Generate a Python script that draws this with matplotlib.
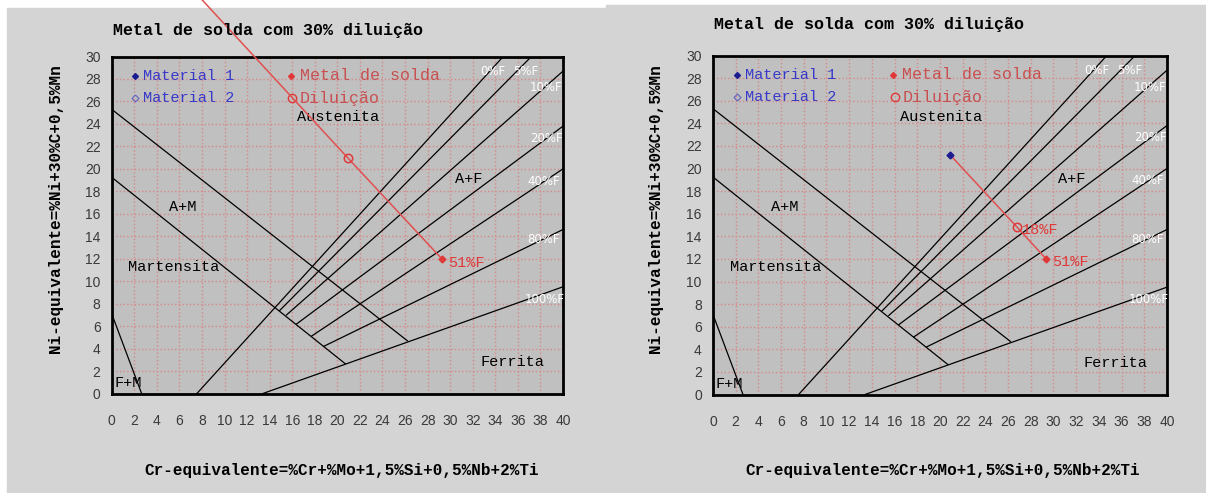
import matplotlib
matplotlib.use('Agg')
import matplotlib.pyplot as plt
from matplotlib.patches import Rectangle

W, H = 1206, 493

# Schaeffler diagram boundaries (Cr-eq, Ni-eq)
am_upper_x, am_upper_y = [0, 26.2], [25.3, 4.7]
am_lower_x, am_lower_y = [0, 20.7], [19.25, 2.65]
fm_x, fm_y = [0, 2.65], [7.1, 0]

fn_labels = ['0%F', '5%F', '10%F', '20%F', '40%F', '80%F', '100%F']
fn_x0 = [7.55, 14.9, 15.5, 16.4, 17.7, 18.8, 13.4]
fn_y0 = [0.0, 7.4, 7.0, 6.2, 5.1, 4.2, 0.0]
fn_x1 = [34.7, 37.2, 40, 40, 40, 40, 40]
fn_y1 = [30, 30, 28.7, 23.8, 20.0, 14.6, 9.5]
fn_lx = [33.8, 36.7, 38.5, 38.5, 38.3, 38.3, 38.4]
fn_ly = [28.7, 28.7, 27.2, 22.7, 18.9, 13.7, 8.4]

regions = ['Austenita', 'A+F', 'A+M', 'Martensita', 'Ferrita', 'F+M']
region_x = [20.1, 31.6, 6.3, 5.5, 35.5, 1.45]
region_y = [24.6, 19.1, 16.6, 11.25, 2.8, 0.9]

# dilution paths: material 1 -> diluted point -> weld metal
left_path_x, left_path_y = [6.4, 20.9, 29.3], [36.8, 21.0, 11.95]
left_dil_x, left_dil_y = [20.9], [21.0]
left_label = '51%F'

right_path_x, right_path_y = [20.9, 26.8, 29.35], [21.2, 14.8, 12.0]
right_dil_x, right_dil_y = [26.8], [14.8]
right_dil_label = '18%F'
right_label = '51%F'

title = 'Metal de solda com 30% diluição'
xlabel = 'Cr-equivalente=%Cr+%Mo+1,5%Si+0,5%Nb+2%Ti'
ylabel = 'Ni-equivalente=%Ni+30%C+0,5%Mn'

MONO = 'Liberation Mono'
BLUE = '#3838c8'
RED = '#e03838'
LRED = '#c85050'

fig = plt.figure(figsize=(W / 100, H / 100), dpi=100, facecolor='white')
fig.patches.append(Rectangle((7 / W, 0), (606 - 7) / W, (H - 8) / H,
                             transform=fig.transFigure, color='#d4d4d4', zorder=-10))
fig.patches.append(Rectangle((606 / W, 0), (W - 606) / W, (H - 5) / H,
                             transform=fig.transFigure, color='#d4d4d4', zorder=-10))


def draw_panel(ax, px, py, dx, dy, weld_label, dil_label, show_m1):
    ax.set_facecolor('#c0c0c0')
    ax.set_xlim(0, 40)
    ax.set_ylim(0, 30)
    ax.set_xticks(range(0, 41, 2))
    ax.set_yticks(range(0, 31, 2))
    ax.tick_params(length=0, labelsize=10, colors='#3a3a3a')
    ax.tick_params(axis='x', pad=15)
    ax.tick_params(axis='y', pad=8)
    for lab in ax.get_xticklabels() + ax.get_yticklabels():
        lab.set_family('Liberation Sans')
    ax.grid(True, color='#d88888', linestyle=':', linewidth=1)
    ax.set_axisbelow(True)
    for s in ax.spines.values():
        s.set_linewidth(2)

    k = dict(color='black', lw=0.9)
    ax.plot(am_upper_x, am_upper_y, **k)
    ax.plot(am_lower_x, am_lower_y, **k)
    ax.plot(fm_x, fm_y, **k)
    for i in range(len(fn_labels)):
        ax.plot([fn_x0[i], fn_x1[i]], [fn_y0[i], fn_y1[i]], **k)
        ax.text(fn_lx[i], fn_ly[i], fn_labels[i], color='white', fontsize=8.5,
                ha='center', va='center', family='DejaVu Sans')
    for t, x, y in zip(regions, region_x, region_y):
        ax.text(x, y, t, fontsize=11, family=MONO, ha='center', va='center')

    # legend
    ax.plot([2.1], [28.3], 'D', color='#1c1c90', ms=3)
    ax.text(2.8, 28.3, 'Material 1', color=BLUE, fontsize=11, family=MONO, va='center')
    ax.plot([2.1], [26.3], 'D', mfc='none', mec='#6060c0', ms=3.5, mew=0.8)
    ax.text(2.8, 26.3, 'Material 2', color=BLUE, fontsize=11, family=MONO, va='center')
    ax.plot([15.9], [28.3], 'D', color=RED, ms=3)
    ax.text(16.7, 28.3, 'Metal de solda', color=LRED, fontsize=12, family=MONO, va='center')
    ax.plot([16.0], [26.3], 'o', mfc='none', mec=RED, ms=6, mew=1)
    ax.text(16.7, 26.3, 'Diluição', color=LRED, fontsize=12, family=MONO, va='center')

    # dilution line
    ax.plot(px, py, color='#e05050', lw=1.1, clip_on=False, zorder=5)
    if show_m1:
        ax.plot(px[:1], py[:1], 'D', color='#1c1c90', ms=3.5, zorder=6)
    ax.plot(dx, dy, 'o', mfc='none', mec=RED, ms=6, mew=1.1, zorder=6)
    if dil_label:
        ax.text(dx[0] + 0.4, dy[0] - 0.25, dil_label, color=RED, fontsize=11,
                family=MONO, va='center', zorder=6)
    ax.plot(px[-1:], py[-1:], 'D', color=RED, ms=3.5, zorder=6)
    ax.text(px[-1] + 0.5, py[-1] - 0.3, weld_label, color=RED, fontsize=11,
            family=MONO, va='center', zorder=6)


axL = fig.add_axes([111.7 / W, (H - 393.5) / H, 451.3 / W, 337 / H])
axR = fig.add_axes([712.9 / W, (H - 394.5) / H, 454.1 / W, 339 / H])
draw_panel(axL, left_path_x, left_path_y, left_dil_x, left_dil_y, left_label, None, False)
draw_panel(axR, right_path_x, right_path_y, right_dil_x, right_dil_y, right_label,
           right_dil_label, True)

for x0, ty, xl in [(113, 30, 341.5), (714, 24, 943)]:
    fig.text(x0 / W, 1 - ty / H, title, fontsize=12, family=MONO, weight='bold',
             va='center', ha='left')
    fig.text(xl / W, 1 - 470 / H, xlabel, fontsize=11.5, family=MONO, weight='bold',
             ha='center', va='center')
for xy in [55.5, 656]:
    fig.text(xy / W, 1 - 209 / H, ylabel, fontsize=11.5, family=MONO, weight='bold',
             rotation=90, ha='center', va='center')

fig.savefig('out.png', dpi=100, facecolor=fig.get_facecolor())
